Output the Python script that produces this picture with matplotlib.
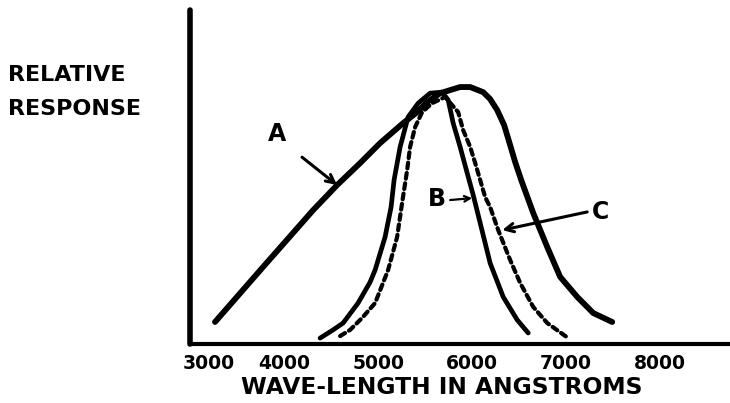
import numpy as np
import matplotlib.pyplot as plt
from matplotlib.transforms import ScaledTranslation

# wave-length (angstroms) and relative response
a_wave = [3266, 3777, 4309, 4564, 4809, 5021, 5266, 5415, 5521, 5660, 5766, 5872, 5979,
          6117, 6191, 6266, 6340, 6404, 6457, 6521, 6649, 6798, 6936, 7117, 7287, 7489]
a_resp = [0.086, 0.301, 0.523, 0.621, 0.707, 0.785, 0.863, 0.906, 0.945, 0.980, 0.992, 1.004, 1.004,
          0.984, 0.957, 0.914, 0.855, 0.777, 0.711, 0.641, 0.512, 0.379, 0.262, 0.184, 0.121, 0.086]

b_wave = [4383, 4521, 4628, 4787, 4915, 4968, 5074, 5138, 5170, 5234, 5319, 5426, 5553, 5681,
          5745, 5798, 5872, 5947, 6011, 6085, 6191, 6330, 6479, 6596]
b_resp = [0.023, 0.055, 0.082, 0.160, 0.242, 0.289, 0.418, 0.535, 0.641, 0.770, 0.887, 0.941, 0.980, 0.984,
          0.953, 0.863, 0.770, 0.668, 0.582, 0.473, 0.316, 0.184, 0.094, 0.043]

c_wave = [4596, 4702, 4830, 4968, 5106, 5202, 5255, 5309, 5340, 5394, 5468, 5574, 5713,
          5851, 5904, 5979, 6032, 6085, 6138, 6191, 6277, 6404, 6511, 6649, 6798, 7021]
c_resp = [0.031, 0.055, 0.102, 0.160, 0.289, 0.418, 0.551, 0.680, 0.770, 0.848, 0.906, 0.941, 0.965,
          0.906, 0.836, 0.770, 0.707, 0.641, 0.574, 0.535, 0.445, 0.328, 0.238, 0.145, 0.082, 0.023]

tick_vals = [3000, 4000, 5000, 6000, 7000, 8000]
tick_labels = ['3000', '4000', '5000', '6000', '7000', '8000']

plt.rcParams['font.family'] = 'DejaVu Sans'
plt.rcParams['font.weight'] = 'bold'

fig = plt.figure(figsize=(7.3, 4.03), dpi=100)
ax = fig.add_axes([190 / 730, 1 - 344 / 403, 538 / 730, 334 / 403])

ax.plot(a_wave, a_resp, color='black', lw=4.2, solid_capstyle='round', solid_joinstyle='round')
ax.plot(b_wave, b_resp, color='black', lw=3.4, solid_capstyle='round', solid_joinstyle='round')
ax.plot(c_wave, c_resp, color='black', lw=3.0, dashes=(1.4, 1.1), dash_capstyle='round',
        dash_joinstyle='round')

ax.set_xlim(3000, 8720)
ax.set_ylim(0, 1.305)

for s in ['top', 'right']:
    ax.spines[s].set_visible(False)
ax.spines['left'].set_linewidth(4)
ax.spines['bottom'].set_linewidth(3)
ax.spines['left'].set_capstyle('round')

ax.set_yticks([])
ax.set_xticks(tick_vals)
ax.set_xticklabels(tick_labels, fontsize=13.5, fontweight='bold')
ax.tick_params(axis='x', length=0, pad=7)
# first label sits a little right of the axis corner
lab = ax.get_xticklabels()[0]
lab.set_transform(lab.get_transform() + ScaledTranslation(19 / 100, 0, fig.dpi_scale_trans))

arr = dict(arrowstyle='->', color='black', lw=2.2, mutation_scale=15, shrinkA=0, shrinkB=0)
ax.text(3926, 0.82, 'A', fontsize=17, fontweight='bold', ha='center', va='center')
ax.annotate('', xy=(4564, 0.621), xytext=(4191, 0.73), arrowprops=arr)
ax.text(5628, 0.566, 'B', fontsize=17, fontweight='bold', ha='center', va='center')
ax.annotate('', xy=(6000, 0.57), xytext=(5766, 0.5625),
            arrowprops=dict(arr, lw=1.6, mutation_scale=10))
ax.text(7362, 0.516, 'C', fontsize=17, fontweight='bold', ha='center', va='center')
ax.annotate('', xy=(6319, 0.445), xytext=(7223, 0.516), arrowprops=arr)

fig.text(8 / 730, 1 - 75 / 403, 'RELATIVE', fontsize=16, fontweight='bold', va='center')
fig.text(8 / 730, 1 - 109 / 403, 'RESPONSE', fontsize=16, fontweight='bold', va='center')
fig.text(442 / 730, 1 - 387 / 403, 'WAVE-LENGTH IN ANGSTROMS', fontsize=16.8,
         fontweight='bold', ha='center', va='center')

fig.savefig('out.png', dpi=100)
